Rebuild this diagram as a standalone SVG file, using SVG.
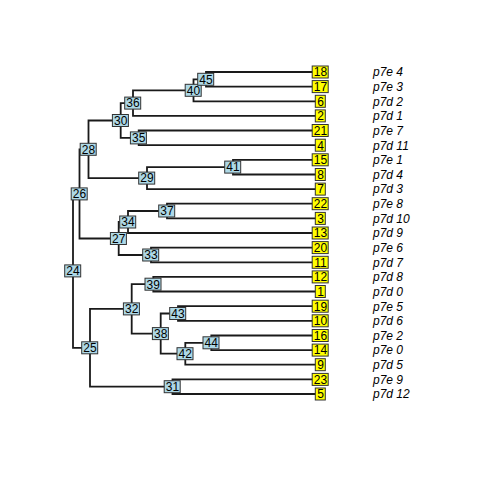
<svg xmlns="http://www.w3.org/2000/svg" width="480" height="480" viewBox="0 0 480 480">
<style>
.e{fill:none;stroke:#1a1a1a;stroke-width:1.8;stroke-linejoin:miter}
.nb{fill:#ADD8E6;stroke:#333;stroke-width:1}
.tb{fill:#FFFF00;stroke:#333;stroke-width:1}
.n{font-family:"Liberation Sans",Arial,sans-serif;font-size:12px;fill:#000;text-anchor:middle}
.l{font-family:"Liberation Sans",Arial,sans-serif;font-size:12px;font-style:italic;fill:#000}
</style>
<rect width="480" height="480" fill="#fff"/>
<g id="connectors">
<path class="e" d="M79.5 193.9H73V347.8H90"/>
<path class="e" d="M88.5 149.3H79.5V238.5H118.7"/>
<path class="e" d="M120.7 120.5H88.5V178.1H147"/>
<path class="e" d="M133 103.1H120.7V137.9H138.7"/>
<path class="e" d="M193.5 90.3H133V115.9H320.5"/>
<path class="e" d="M206 79.3H193.5V101.3H320.5"/>
<path class="e" d="M320.5 72H206V86.6H320.5"/>
<path class="e" d="M320.5 130.5H138.7V145.2H320.5"/>
<path class="e" d="M233 167.1H147V189.1H320.5"/>
<path class="e" d="M320.5 159.8H233V174.5H320.5"/>
<path class="e" d="M128 222H118.7V255H151"/>
<path class="e" d="M167 211H128V233H320.5"/>
<path class="e" d="M320.5 203.7H167V218.4H320.5"/>
<path class="e" d="M320.5 247.6H151V262.3H320.5"/>
<path class="e" d="M131.7 308.9H90V386.7H172.5"/>
<path class="e" d="M153.3 284.2H131.7V333.6H160.7"/>
<path class="e" d="M320.5 276.9H153.3V291.5H320.5"/>
<path class="e" d="M178 313.5H160.7V353.7H185.3"/>
<path class="e" d="M320.5 306.2H178V320.8H320.5"/>
<path class="e" d="M211.3 342.8H185.3V364.7H320.5"/>
<path class="e" d="M320.5 335.5H211.3V350.1H320.5"/>
<path class="e" d="M320.5 379.4H172.5V394H320.5"/>
</g>
<g id="internal-nodes">
<g id="node-24"><rect class="nb" x="64.7" y="264.9" width="16" height="12"/><text class="n" x="73" y="275.2">24</text></g>
<g id="node-26"><rect class="nb" x="71.2" y="187.9" width="16" height="12"/><text class="n" x="79.5" y="198.2">26</text></g>
<g id="node-25"><rect class="nb" x="81.7" y="341.8" width="16" height="12"/><text class="n" x="90" y="352.1">25</text></g>
<g id="node-28"><rect class="nb" x="80.2" y="143.3" width="16" height="12"/><text class="n" x="88.5" y="153.6">28</text></g>
<g id="node-27"><rect class="nb" x="110.4" y="232.5" width="16" height="12"/><text class="n" x="118.7" y="242.8">27</text></g>
<g id="node-30"><rect class="nb" x="112.4" y="114.5" width="16" height="12"/><text class="n" x="120.7" y="124.8">30</text></g>
<g id="node-29"><rect class="nb" x="138.7" y="172.1" width="16" height="12"/><text class="n" x="147" y="182.4">29</text></g>
<g id="node-36"><rect class="nb" x="124.7" y="97.1" width="16" height="12"/><text class="n" x="133" y="107.4">36</text></g>
<g id="node-35"><rect class="nb" x="130.4" y="131.9" width="16" height="12"/><text class="n" x="138.7" y="142.2">35</text></g>
<g id="node-40"><rect class="nb" x="185.2" y="84.3" width="16" height="12"/><text class="n" x="193.5" y="94.6">40</text></g>
<g id="node-45"><rect class="nb" x="197.7" y="73.3" width="16" height="12"/><text class="n" x="206" y="83.6">45</text></g>
<g id="node-41"><rect class="nb" x="224.7" y="161.1" width="16" height="12"/><text class="n" x="233" y="171.4">41</text></g>
<g id="node-34"><rect class="nb" x="119.7" y="216" width="16" height="12"/><text class="n" x="128" y="226.3">34</text></g>
<g id="node-37"><rect class="nb" x="158.7" y="205" width="16" height="12"/><text class="n" x="167" y="215.3">37</text></g>
<g id="node-33"><rect class="nb" x="142.7" y="249" width="16" height="12"/><text class="n" x="151" y="259.3">33</text></g>
<g id="node-32"><rect class="nb" x="123.4" y="302.9" width="16" height="12"/><text class="n" x="131.7" y="313.2">32</text></g>
<g id="node-31"><rect class="nb" x="164.2" y="380.7" width="16" height="12"/><text class="n" x="172.5" y="391">31</text></g>
<g id="node-39"><rect class="nb" x="145" y="278.2" width="16" height="12"/><text class="n" x="153.3" y="288.5">39</text></g>
<g id="node-38"><rect class="nb" x="152.4" y="327.6" width="16" height="12"/><text class="n" x="160.7" y="337.9">38</text></g>
<g id="node-43"><rect class="nb" x="169.7" y="307.5" width="16" height="12"/><text class="n" x="178" y="317.8">43</text></g>
<g id="node-42"><rect class="nb" x="177" y="347.7" width="16" height="12"/><text class="n" x="185.3" y="358">42</text></g>
<g id="node-44"><rect class="nb" x="203" y="336.8" width="16" height="12"/><text class="n" x="211.3" y="347.1">44</text></g>
</g>
<g id="tips">
<g id="tip-18"><rect class="tb" x="312.2" y="66" width="16" height="12"/><text class="n" x="320.5" y="76.3">18</text><text class="l" x="373" y="76.3">p7e 4</text></g>
<g id="tip-17"><rect class="tb" x="312.2" y="80.6" width="16" height="12"/><text class="n" x="320.5" y="90.9">17</text><text class="l" x="373" y="90.9">p7e 3</text></g>
<g id="tip-6"><rect class="tb" x="315.3" y="95.3" width="10" height="12"/><text class="n" x="320.5" y="105.6">6</text><text class="l" x="373" y="105.6">p7d 2</text></g>
<g id="tip-2"><rect class="tb" x="315.3" y="109.9" width="10" height="12"/><text class="n" x="320.5" y="120.2">2</text><text class="l" x="373" y="120.2">p7d 1</text></g>
<g id="tip-21"><rect class="tb" x="312.2" y="124.5" width="16" height="12"/><text class="n" x="320.5" y="134.8">21</text><text class="l" x="373" y="134.8">p7e 7</text></g>
<g id="tip-4"><rect class="tb" x="315.3" y="139.2" width="10" height="12"/><text class="n" x="320.5" y="149.5">4</text><text class="l" x="373" y="149.5">p7d 11</text></g>
<g id="tip-15"><rect class="tb" x="312.2" y="153.8" width="16" height="12"/><text class="n" x="320.5" y="164.1">15</text><text class="l" x="373" y="164.1">p7e 1</text></g>
<g id="tip-8"><rect class="tb" x="315.3" y="168.5" width="10" height="12"/><text class="n" x="320.5" y="178.8">8</text><text class="l" x="373" y="178.8">p7d 4</text></g>
<g id="tip-7"><rect class="tb" x="315.3" y="183.1" width="10" height="12"/><text class="n" x="320.5" y="193.4">7</text><text class="l" x="373" y="193.4">p7d 3</text></g>
<g id="tip-22"><rect class="tb" x="312.2" y="197.7" width="16" height="12"/><text class="n" x="320.5" y="208">22</text><text class="l" x="373" y="208">p7e 8</text></g>
<g id="tip-3"><rect class="tb" x="315.3" y="212.4" width="10" height="12"/><text class="n" x="320.5" y="222.7">3</text><text class="l" x="373" y="222.7">p7d 10</text></g>
<g id="tip-13"><rect class="tb" x="312.2" y="227" width="16" height="12"/><text class="n" x="320.5" y="237.3">13</text><text class="l" x="373" y="237.3">p7d 9</text></g>
<g id="tip-20"><rect class="tb" x="312.2" y="241.6" width="16" height="12"/><text class="n" x="320.5" y="251.9">20</text><text class="l" x="373" y="251.9">p7e 6</text></g>
<g id="tip-11"><rect class="tb" x="312.2" y="256.3" width="16" height="12"/><text class="n" x="320.5" y="266.6">11</text><text class="l" x="373" y="266.6">p7d 7</text></g>
<g id="tip-12"><rect class="tb" x="312.2" y="270.9" width="16" height="12"/><text class="n" x="320.5" y="281.2">12</text><text class="l" x="373" y="281.2">p7d 8</text></g>
<g id="tip-1"><rect class="tb" x="315.3" y="285.5" width="10" height="12"/><text class="n" x="320.5" y="295.8">1</text><text class="l" x="373" y="295.8">p7d 0</text></g>
<g id="tip-19"><rect class="tb" x="312.2" y="300.2" width="16" height="12"/><text class="n" x="320.5" y="310.5">19</text><text class="l" x="373" y="310.5">p7e 5</text></g>
<g id="tip-10"><rect class="tb" x="312.2" y="314.8" width="16" height="12"/><text class="n" x="320.5" y="325.1">10</text><text class="l" x="373" y="325.1">p7d 6</text></g>
<g id="tip-16"><rect class="tb" x="312.2" y="329.5" width="16" height="12"/><text class="n" x="320.5" y="339.8">16</text><text class="l" x="373" y="339.8">p7e 2</text></g>
<g id="tip-14"><rect class="tb" x="312.2" y="344.1" width="16" height="12"/><text class="n" x="320.5" y="354.4">14</text><text class="l" x="373" y="354.4">p7e 0</text></g>
<g id="tip-9"><rect class="tb" x="315.3" y="358.7" width="10" height="12"/><text class="n" x="320.5" y="369">9</text><text class="l" x="373" y="369">p7d 5</text></g>
<g id="tip-23"><rect class="tb" x="312.2" y="373.4" width="16" height="12"/><text class="n" x="320.5" y="383.7">23</text><text class="l" x="373" y="383.7">p7e 9</text></g>
<g id="tip-5"><rect class="tb" x="315.3" y="388" width="10" height="12"/><text class="n" x="320.5" y="398.3">5</text><text class="l" x="373" y="398.3">p7d 12</text></g>
</g>
</svg>
